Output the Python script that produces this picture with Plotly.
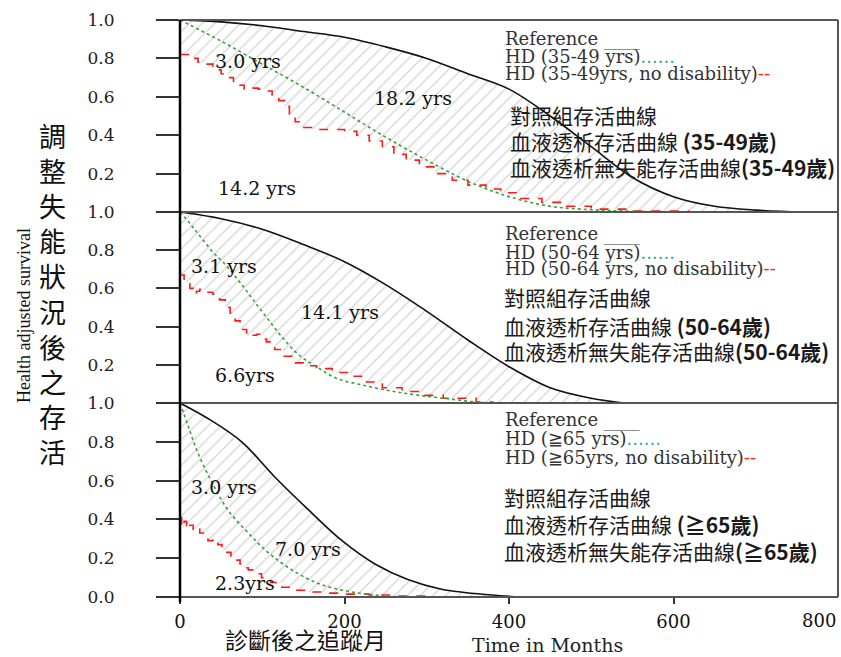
import plotly.graph_objects as go

# ---------------- data ----------------
# Panel 1: 35-49 yrs
ref1_t = [0, 50, 100, 150, 200, 250, 300, 350, 400, 450, 500, 550, 600, 650, 700, 760]
ref1_s = [1.0, 0.99, 0.97, 0.94, 0.91, 0.86, 0.80, 0.72, 0.64, 0.50, 0.34, 0.18, 0.08, 0.03, 0.01, 0.0]
hd1_t = [0, 50, 100, 150, 200, 250, 300, 350, 400, 450, 500, 550, 620]
hd1_s = [1.0, 0.89, 0.77, 0.65, 0.52, 0.39, 0.27, 0.16, 0.08, 0.03, 0.012, 0.004, 0.0]
nd1_t = [0, 10, 16, 22, 32, 40, 50, 58, 65, 72, 78, 85, 95, 105, 112, 120, 127, 133, 140, 147,
         160, 180, 200, 215, 230, 246, 260, 275, 291, 310, 331, 350, 372, 390, 412, 440, 470, 500, 550, 618]
nd1_s = [0.82, 0.81, 0.80, 0.78, 0.77, 0.74, 0.72, 0.70, 0.68, 0.66, 0.64, 0.645, 0.64, 0.63, 0.61, 0.58,
         0.55, 0.51, 0.47, 0.44, 0.43, 0.43, 0.42, 0.40, 0.37, 0.34, 0.30, 0.27, 0.235, 0.20, 0.165, 0.14,
         0.12, 0.10, 0.07, 0.05, 0.03, 0.015, 0.005, 0.0]

# Panel 2: 50-64 yrs
ref2_t = [0, 50, 100, 150, 200, 250, 300, 350, 400, 450, 500, 540]
ref2_s = [1.0, 0.965, 0.91, 0.83, 0.74, 0.62, 0.48, 0.33, 0.19, 0.08, 0.025, 0.0]
hd2_t = [0, 12, 24, 40, 56, 75, 89, 105, 125, 145, 166, 190, 226, 260, 291, 330, 360, 380]
hd2_s = [1.0, 0.94, 0.875, 0.79, 0.72, 0.62, 0.54, 0.45, 0.34, 0.25, 0.19, 0.13, 0.09, 0.06, 0.04, 0.02, 0.005, 0.0]
nd2_t = [0, 5, 8, 12, 16, 20, 24, 30, 40, 48, 55, 61, 67, 73, 81, 87, 93, 100, 105, 115, 125, 137,
         150, 166, 185, 206, 225, 246, 270, 291, 320, 360, 380]
nd2_s = [0.67, 0.64, 0.625, 0.60, 0.57, 0.585, 0.595, 0.58, 0.57, 0.54, 0.50, 0.47, 0.43, 0.385, 0.35,
         0.355, 0.36, 0.335, 0.32, 0.28, 0.245, 0.21, 0.195, 0.18, 0.16, 0.14, 0.11, 0.08, 0.06, 0.04,
         0.025, 0.005, 0.0]

# Panel 3: >=65 yrs
ref3_t = [0, 34, 75, 115, 156, 197, 237, 277, 318, 379, 416]
ref3_s = [1.0, 0.92, 0.80, 0.62, 0.45, 0.29, 0.17, 0.09, 0.04, 0.01, 0.0]
hd3_t = [0, 10, 22, 39, 58, 83, 107, 136, 168, 204, 237, 270, 800]
hd3_s = [1.0, 0.88, 0.74, 0.59, 0.45, 0.33, 0.23, 0.14, 0.07, 0.03, 0.01, 0.0, 0.0]
nd3_t = [0, 2, 5, 8, 12, 16, 20, 24, 30, 34, 40, 46, 51, 57, 62, 67, 73, 78, 83, 90, 99, 110, 124,
         140, 156, 176, 197, 230, 260, 300, 800]
nd3_s = [0.41, 0.36, 0.39, 0.35, 0.37, 0.34, 0.35, 0.33, 0.32, 0.29, 0.30, 0.27, 0.24, 0.23, 0.21,
         0.19, 0.17, 0.15, 0.14, 0.12, 0.10, 0.075, 0.05, 0.035, 0.026, 0.02, 0.015, 0.01, 0.005, 0.0, 0.0]

x_ticks = [0, 200, 400, 600]
y_ticks_upper = [0.2, 0.4, 0.6, 0.8, 1.0]
y_ticks_lower = [0.0, 0.2, 0.4, 0.6, 0.8, 1.0]

# annotation labels (text, month, survival)
labels1 = [("3.0 yrs", 83, 0.786), ("18.2 yrs", 283, 0.594), ("14.2 yrs", 94, 0.125)]
labels2 = [("3.1 yrs", 54, 0.717), ("14.1 yrs", 195, 0.476), ("6.6yrs", 79, 0.147)]
labels3 = [("3.0 yrs", 54, 0.567), ("7.0 yrs", 156, 0.247), ("2.3yrs", 79, 0.072)]

legend_en = [
    ["Reference ____", "HD (35-49 yrs)", "HD (35-49yrs, no disability)"],
    ["Reference ____", "HD (50-64 yrs)", "HD (50-64 yrs, no disability)"],
    ["Reference ____", "HD (\u226765 yrs)", "HD (\u226765yrs, no disability)"],
]
legend_zh = [
    ["對照組存活曲線", "血液透析存活曲線 <b>(35-49歲)</b>", "血液透析無失能存活曲線<b>(35-49歲)</b>"],
    ["對照組存活曲線", "血液透析存活曲線 <b>(50-64歲)</b>", "血液透析無失能存活曲線<b>(50-64歲)</b>"],
    ["對照組存活曲線", "血液透析存活曲線 <b>(\u226765歲)</b>", "血液透析無失能存活曲線<b>(\u226765歲)</b>"],
]

# ---------------- layout geometry ----------------
W, H = 841, 657
L, R, T, B = 180, 3, 20, 60
PW, PH = W - L - R, H - T - B

def px_x(px):
    return (px - L) / PW

def px_y(py):
    return (H - B - py) / PH

d_bot = [0, px_y(403)]
d_mid = [px_y(403), px_y(212)]
d_top = [px_y(212), 1]

SERIF = "DejaVu Serif"
CJK = "Noto Sans CJK TC"

fig = go.Figure()

panels = [
    ("y3", ref1_t, ref1_s, hd1_t, hd1_s, nd1_t, nd1_s),
    ("y2", ref2_t, ref2_s, hd2_t, hd2_s, nd2_t, nd2_s),
    ("y", ref3_t, ref3_s, hd3_t, hd3_s, nd3_t, nd3_s),
]

for yax, rt, rs, ht, hs, nt, ns in panels:
    fig.add_trace(go.Scatter(x=rt, y=rs, xaxis="x", yaxis=yax, mode="lines",
                             line=dict(color="#111111", width=1.6, shape="spline"),
                             showlegend=False))
    fig.add_trace(go.Scatter(x=nt, y=ns, xaxis="x", yaxis=yax, mode="lines",
                             line=dict(color="#ff1a1a", width=1.6, dash="dash", shape="hv"),
                             fill="tonexty", fillcolor="rgba(0,0,0,0)",
                             fillpattern=dict(shape="/", size=9, solidity=0.14,
                                              fgcolor="#a8a8a8", bgcolor="rgba(0,0,0,0)"),
                             showlegend=False))
    fig.add_trace(go.Scatter(x=ht, y=hs, xaxis="x", yaxis=yax, mode="lines",
                             line=dict(color="#3a9e3a", width=1.6, dash="dot", shape="spline"),
                             showlegend=False))

annotations = []
for yref, labs in (("y3", labels1), ("y2", labels2), ("y", labels3)):
    for txt, xm, ys in labs:
        annotations.append(dict(x=xm, y=ys, xref="x", yref=yref, text=txt, showarrow=False,
                                xanchor="center", yanchor="middle",
                                font=dict(family=SERIF, size=19, color="#111")))

leg_en_y = [[39, 56, 73], [234, 252, 268], [420, 438, 457]]
leg_zh_y = [[115, 141, 167], [297, 326, 351], [497, 524, 551]]
leg_zh_x = [508, 502, 502]
for i in range(3):
    en = legend_en[i]
    texts = [
        en[0],
        en[1] + "<span style='color:#3aa5a5'>......</span>",
        en[2] + "<span style='color:#ff2020'>--</span>",
    ]
    for t, py in zip(texts, leg_en_y[i]):
        annotations.append(dict(x=px_x(503), y=px_y(py), xref="paper", yref="paper", text=t,
                                showarrow=False, xanchor="left", yanchor="middle",
                                font=dict(family=SERIF, size=18, color="#333")))
    for t, py in zip(legend_zh[i], leg_zh_y[i]):
        annotations.append(dict(x=px_x(leg_zh_x[i]), y=px_y(py), xref="paper", yref="paper", text=t,
                                showarrow=False, xanchor="left", yanchor="middle",
                                font=dict(family=CJK, size=21, color="#1a1a1a")))

# axis titles
annotations.append(dict(x=px_x(53), y=px_y(293), xref="paper", yref="paper",
                        text="<br>".join("調整失能狀況後之存活"), showarrow=False,
                        xanchor="center", yanchor="middle",
                        font=dict(family=CJK, size=27, color="#111")))
annotations.append(dict(x=px_x(24), y=px_y(316), xref="paper", yref="paper",
                        text="Health adjusted survival", textangle=-90, showarrow=False,
                        xanchor="center", yanchor="middle",
                        font=dict(family="Liberation Serif", size=18, color="#111")))
annotations.append(dict(x=px_x(305), y=px_y(639), xref="paper", yref="paper",
                        text="診斷後之追蹤月", showarrow=False,
                        xanchor="center", yanchor="middle",
                        font=dict(family=CJK, size=23, color="#111")))
annotations.append(dict(x=px_x(547), y=px_y(645), xref="paper", yref="paper",
                        text="Time in Months", showarrow=False,
                        xanchor="center", yanchor="middle",
                        font=dict(family=SERIF, size=19, color="#222")))
annotations.append(dict(x=800, y=px_y(620), xref="x", yref="paper", text="800",
                        showarrow=False, xanchor="right", yanchor="middle",
                        font=dict(family=SERIF, size=18, color="#111")))

ycommon = dict(range=[0, 1], showgrid=False, zeroline=False, showline=False,
               ticks="outside", ticklen=23, tickwidth=1.5, tickcolor="#333",
               tickformat=".1f", ticklabelstandoff=38,
               tickfont=dict(family=SERIF, size=17, color="#222"), anchor="x")

shapes = []
line_gray = dict(color="#555", width=2)
for yy in (1, px_y(212), px_y(403), 0):
    shapes.append(dict(type="line", xref="paper", yref="paper", x0=0, x1=1, y0=yy, y1=yy,
                       line=line_gray, layer="above"))
shapes.append(dict(type="line", xref="paper", yref="paper", x0=1, x1=1, y0=0, y1=1,
                   line=line_gray, layer="above"))
shapes.append(dict(type="line", xref="paper", yref="paper", x0=0, x1=0, y0=px_y(602), y1=1,
                   line=dict(color="#000", width=2.5), layer="above"))

fig.update_layout(
    width=W, height=H,
    margin=dict(l=L, r=R, t=T, b=B),
    plot_bgcolor="white", paper_bgcolor="white",
    showlegend=False,
    xaxis=dict(range=[0, 800], domain=[0, 1], anchor="y", showgrid=False, zeroline=False,
               showline=False, ticks="outside", ticklen=6, tickwidth=1.5, tickcolor="#333",
               tickvals=x_ticks, ticktext=[str(v) for v in x_ticks], ticklabelstandoff=2,
               tickfont=dict(family=SERIF, size=18, color="#111")),
    yaxis=dict(domain=d_bot, tickvals=y_ticks_lower, **ycommon),
    yaxis2=dict(domain=d_mid, tickvals=y_ticks_upper, **ycommon),
    yaxis3=dict(domain=d_top, tickvals=y_ticks_upper, **ycommon),
    annotations=annotations,
    shapes=shapes,
)

fig.write_html("out.html", config={"displayModeBar": False},
               post_script="document.body.style.margin='0';")
